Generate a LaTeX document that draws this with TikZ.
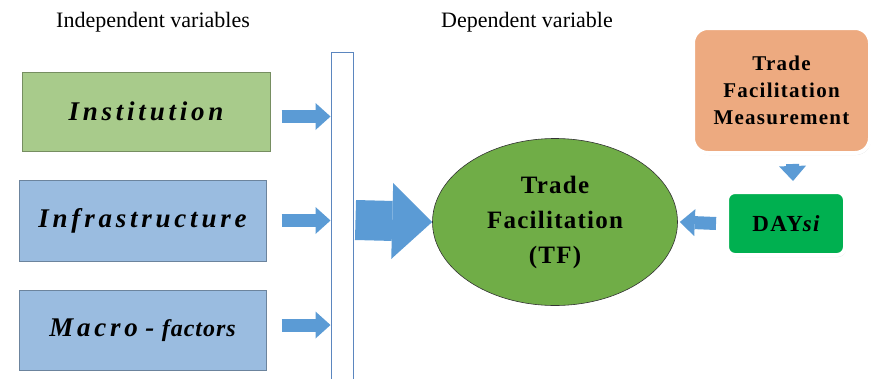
\documentclass[tikz,border=0pt]{standalone}
\usepackage{fontspec}
\setmainfont{Liberation Serif}
\usetikzlibrary{arrows.meta, positioning, shapes.geometric, shadows}

\definecolor{instgreen}{HTML}{A8CB8B}
\definecolor{boxblue}{HTML}{9ABCE0}
\definecolor{arrowblue}{HTML}{5B9BD5}
\definecolor{barblue}{HTML}{5B86BF}
\definecolor{tfgreen}{HTML}{70AD47}
\definecolor{measorange}{HTML}{EDAA80}
\definecolor{daygreen}{HTML}{00B050}

\tikzset{
  varbox/.style={fill=#1, draw=white, line width=3pt,
    minimum width=251pt, minimum height=84pt,
    drop shadow={shadow xshift=1pt, shadow yshift=-2pt, opacity=.25},
    path picture={\draw[#1!70!black, line width=5pt]
      (path picture bounding box.south west) rectangle (path picture bounding box.north east);},
    font=\fontsize{27}{32}\selectfont\bfseries\itshape\addfontfeature{LetterSpace=14}},
  softbox/.style={fill=#1, draw=white, line width=4pt,
    drop shadow={shadow xshift=1pt, shadow yshift=-2pt, opacity=.25},
    align=center},
  blockarrow/.style={draw=arrowblue, line width=13pt,
    -{Triangle[length=15pt, width=27pt, line width=0pt]}},
  heading/.style={font=\fontsize{22}{26}\selectfont}
}

\begin{document}
\begin{tikzpicture}[x=1pt, y=-1pt]
    \useasboundingbox (0,0) rectangle (877,378);

    % Headings
    \node[heading] (indep) at (153,22) {Independent variables};
    \node[heading] (dep) at (527,22) {Dependent variable};

    % Independent variables
    \node[varbox=instgreen, minimum width=252pt, minimum height=83pt] (inst) at (146,111.5) {Institution};
    \node[varbox=boxblue, minimum height=85pt] (infra) at (142.5,220.5) {Infrastructure};
    \node[varbox=boxblue] (macro) at (142.5,330) {Macro\;-\;{\fontsize{24}{28}\selectfont\addfontfeature{LetterSpace=4}factors}};

    % Collecting bar
    \node[draw=barblue, line width=1pt, fill=white, minimum width=22pt, minimum height=336pt,
          inner sep=0pt] (bar) at (342,220) {};

    % Dependent variable
    \node[ellipse, draw=black!80, line width=.6pt, fill=tfgreen, minimum width=245pt, minimum height=167pt,
          align=center, font=\fontsize{25}{35}\selectfont\bfseries\addfontfeature{LetterSpace=5}]
          (tf) at (555,222) {Trade\\Facilitation\\(TF)};

    % Measurement
    \node[softbox=measorange, rounded corners=15pt, minimum width=177pt, minimum height=125pt,
          font=\fontsize{21}{27}\selectfont\bfseries\addfontfeature{LetterSpace=6}]
          (meas) at (781.5,90.5) {Trade\\Facilitation\\Measurement};
    \node[softbox=daygreen, rounded corners=8pt, minimum width=118pt, minimum height=63pt,
          font=\fontsize{23}{27}\selectfont\bfseries\addfontfeature{LetterSpace=6}]
          (day) at (786,223.5) {DAY{\itshape si}};

    % Arrows
    \draw[blockarrow] ([xshift=8pt, yshift=-5pt]inst.east) -- ([yshift=-5pt]inst.east -| bar.west);
    \draw[blockarrow] ([xshift=12pt]infra.east) -- (infra.east -| bar.west);
    \draw[blockarrow] ([xshift=12pt, yshift=5pt]macro.east) -- ([yshift=5pt]macro.east -| bar.west);
    \draw[blockarrow, line width=40pt, -{Triangle[length=40pt, width=76pt, line width=0pt]}]
        ([xshift=2pt]bar.east) -- (tf.west);
    \draw[blockarrow] ([xshift=11pt, yshift=-9pt]meas.south) -- ([xshift=7pt, yshift=9pt]day.north);
    \draw[blockarrow] ([xshift=-9pt]day.west) -- ([xshift=2pt]tf.east);
\end{tikzpicture}
\end{document}
